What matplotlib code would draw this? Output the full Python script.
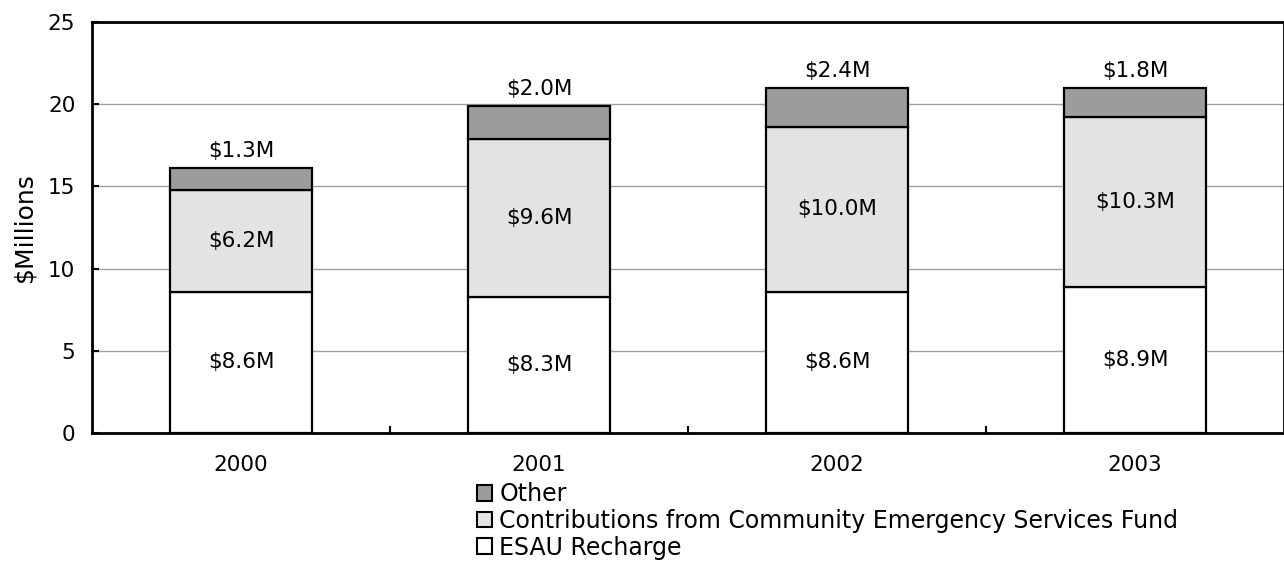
import numpy as np
import matplotlib.pyplot as plt
import matplotlib.patches as mpatches

# funding sources by year, in $ millions
years = ["2000", "2001", "2002", "2003"]
esau_recharge = [8.6, 8.3, 8.6, 8.9]
community_fund = [6.2, 9.6, 10.0, 10.3]
other = [1.3, 2.0, 2.4, 1.8]

series_names = ["ESAU Recharge",
                "Contributions from Community Emergency Services Fund",
                "Other"]
series_colors = ["#ffffff", "#e3e3e3", "#9c9c9c"]

plt.rcParams['font.family'] = ['DejaVu Sans']
FS = 15.5

fig = plt.figure(figsize=(12.84, 5.62), dpi=100)
ax = fig.add_axes([92 / 1284, 129 / 562, 1192 / 1284, 411 / 562])

x = np.arange(len(years))
width = 0.477
stack = [esau_recharge, community_fund, other]
bottom = np.zeros(len(years))
for vals, color in zip(stack, series_colors):
    vals = np.array(vals)
    ax.bar(x, vals, width, bottom=bottom, color=color,
           edgecolor="black", linewidth=1.6, zorder=3)
    bottom += vals

# labels inside the two lower segments, "Other" sits above the bar
for i in range(len(years)):
    ax.text(x[i], esau_recharge[i] / 2, f"\\${esau_recharge[i]:.1f}M",
            ha="center", va="center", fontsize=FS, zorder=4)
    ax.text(x[i], esau_recharge[i] + community_fund[i] / 2,
            f"\\${community_fund[i]:.1f}M",
            ha="center", va="center", fontsize=FS, zorder=4)
    top = esau_recharge[i] + community_fund[i] + other[i]
    ax.annotate(f"\\${other[i]:.1f}M", (x[i], top), xytext=(0, 5),
                textcoords="offset points", ha="center", va="bottom",
                fontsize=FS)

ax.set_xlim(-0.5, len(years) - 0.5)
ax.set_ylim(0, 25)
ax.set_yticks([0, 5, 10, 15, 20, 25])
ax.yaxis.grid(True, color="#a0a0a0", linewidth=1.0, zorder=0)
ax.set_axisbelow(True)

# year labels centred, tick marks between the categories
ax.set_xticks(x)
ax.set_xticklabels(years, fontsize=FS)
ax.tick_params(axis="x", length=0, pad=16)
ax.set_xticks(np.arange(0.5, len(years) - 0.5, 1), minor=True)
ax.tick_params(axis="x", which="minor", length=5, width=1.5, direction="in")
ax.tick_params(axis="y", labelsize=FS, length=5, width=1.5, direction="in", pad=12)

for sp in ax.spines.values():
    sp.set_linewidth(2)

ax.set_ylabel("\\$Millions", fontsize=18, labelpad=8)

handles = [mpatches.Patch(facecolor=c, edgecolor="black", linewidth=1.5, label=n)
           for n, c in zip(series_names, series_colors)][::-1]
fig.legend(handles=handles, loc="upper left", bbox_to_anchor=(477 / 1284, 1 - 482 / 562),
           frameon=False, fontsize=17, handlelength=0.65, handleheight=0.65,
           handletextpad=0.3, labelspacing=0.12, borderpad=0, borderaxespad=0)

fig.savefig("out.png", dpi=100)
